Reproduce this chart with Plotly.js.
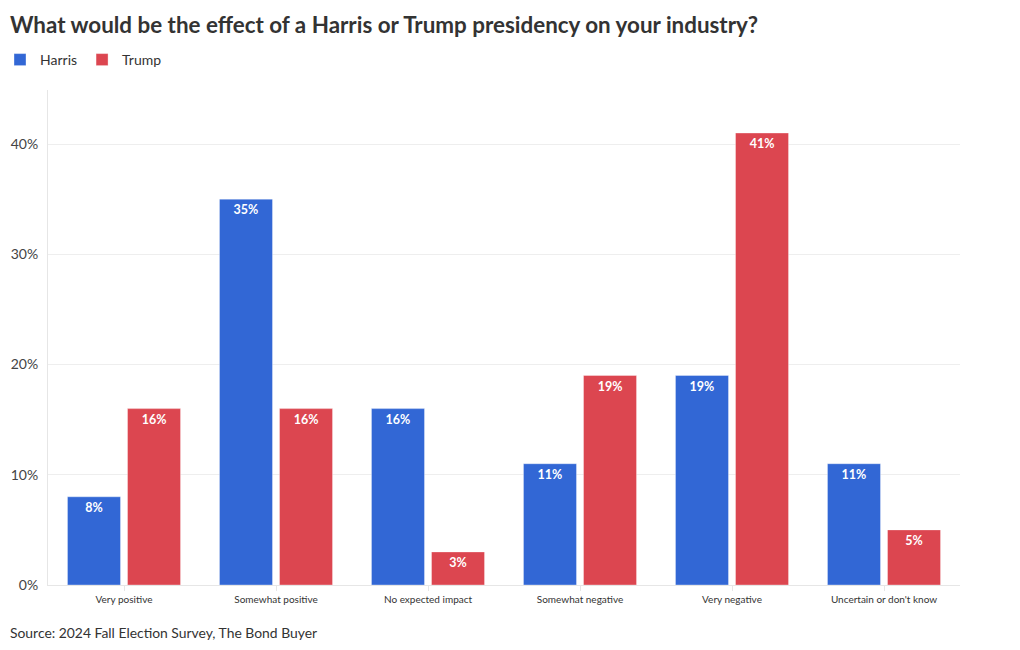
<!DOCTYPE html>
<html>
<head>
<meta charset="utf-8">
<script src="https://cdn.plot.ly/plotly-3.0.1.min.js"></script>
<style>html,body{margin:0;padding:0;background:#fff;}#chart{width:1020px;height:650px;}</style>
</head>
<body>
<div id="chart"></div>
<script>
const categories = ["Very positive", "Somewhat positive", "No expected impact", "Somewhat negative", "Very negative", "Uncertain or don't know"];
const harris = [8, 35, 16, 11, 19, 11];
const trump = [16, 16, 3, 19, 41, 5];
const yTicks = [0, 10, 20, 30, 40];
const yTickLabels = ["0%", "10%", "20%", "30%", "40%"];

const FONT = "Lato, 'Open Sans', sans-serif";

function barTrace(name, values, color) {
  return {
    type: 'bar',
    name: name,
    x: categories,
    y: values,
    marker: {color: color, line: {color: 'rgba(255,255,255,0.35)', width: 1}},
    texttemplate: '%{y}%',
    textposition: 'inside',
    insidetextanchor: 'end',
    textangle: 0,
    textfont: {family: FONT, size: 12.5, color: '#ffffff', weight: 700},
    hoverinfo: 'skip',
    cliponaxis: false
  };
}

const data = [
  barTrace('Harris', harris, 'rgb(50,103,213)'),
  barTrace('Trump', trump, 'rgb(220,70,80)')
];

const layout = {
  width: 1020,
  height: 650,
  paper_bgcolor: '#ffffff',
  plot_bgcolor: '#ffffff',
  font: {family: FONT, color: '#333333'},
  margin: {l: 48, r: 60, t: 90, b: 65},
  title: {
    text: '<b>What would be the effect of a Harris or Trump presidency on your industry?</b>',
    font: {family: FONT, size: 22.4, color: '#333333'},
    x: 10/1020, xanchor: 'left', xref: 'container',
    y: 1 - 25/650, yanchor: 'middle', yref: 'container'
  },
  showlegend: true,
  legend: {
    orientation: 'h',
    xref: 'container', yref: 'container',
    x: -14/1020, xanchor: 'left',
    y: 1 - 60/650, yanchor: 'middle',
    font: {family: FONT, size: 14, color: '#333333'},
    itemwidth: 30,
    tracegroupgap: 0,
    traceorder: 'normal'
  },
  barmode: 'group',
  bargap: 0.21,
  bargroupgap: 0.117,
  xaxis: {
    type: 'category',
    tickfont: {family: FONT, size: 10, color: '#333333'},
    ticks: 'outside', ticklen: 5, tickcolor: '#e6e6e6', tickwidth: 1,
    showline: true, linecolor: '#e6e6e6', linewidth: 1,
    showgrid: false, zeroline: false, fixedrange: true
  },
  yaxis: {
    range: [0, 44.9],
    tickvals: yTicks,
    ticktext: yTickLabels,
    tickfont: {family: FONT, size: 14, color: '#444444'},
    ticks: '', ticklabelstandoff: 6,
    showgrid: true, gridcolor: '#eeeeee', gridwidth: 1,
    showline: true, linecolor: '#e6e6e6', linewidth: 1,
    zeroline: false, fixedrange: true
  },
  annotations: [{
    text: 'Source: 2024 Fall Election Survey, The Bond Buyer',
    xref: 'paper', yref: 'paper', xanchor: 'left', yanchor: 'middle',
    x: -40/912, y: -47/495, showarrow: false,
    font: {family: FONT, size: 13.9, color: '#333333'}
  }]
};

Plotly.newPlot('chart', data, layout, {displayModeBar: false, staticPlot: true});
</script>
</body>
</html>
